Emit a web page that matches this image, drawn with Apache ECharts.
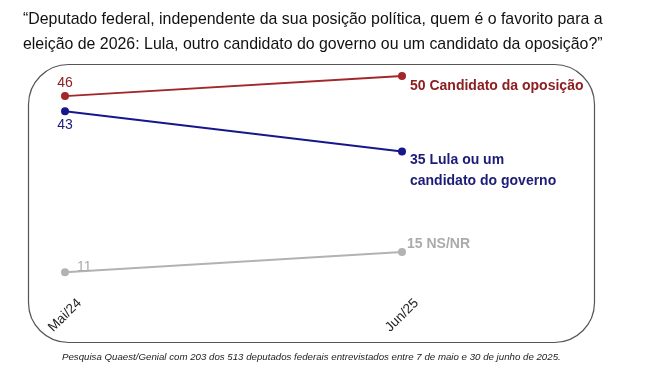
<!DOCTYPE html>
<html><head><meta charset="utf-8">
<script src="https://cdn.jsdelivr.net/npm/echarts@6/dist/echarts.min.js"></script>
<style>html,body{margin:0;padding:0;background:#fff}#c{width:650px;height:365px}</style>
</head><body><div id="c"></div>
<script>
const categories = ['Mai/24', 'Jun/25'];
const oposicao = [46, 50];
const governo = [43, 35];
const nsnr = [11, 15];
const nameOposicao = 'Candidato da oposição';
const nameGoverno = 'Lula ou um\ncandidato do governo';
const nameNsnr = 'NS/NR';
const title = '“Deputado federal, independente da sua posição política, quem é o favorito para a\neleição de 2026: Lula, outro candidato do governo ou um candidato da oposição?”';
const note = 'Pesquisa Quaest/Genial com 203 dos 513 deputados federais entrevistados entre 7 de maio e 30 de junho de 2025.';

const RED = '#a2262a', REDT = '#8c1f22';
const BLUE = '#17178c', BLUET = '#1c1c78';
const GRAY = '#b2b2b2', GRAYT = '#ababab';
const FF = 'Liberation Sans, Arial, sans-serif';

function mk(name, vals, color, tcolor, firstLabel, lastLabel) {
  return {
    type: 'line', name: name, symbol: 'circle', symbolSize: 8,
    lineStyle: { color: color, width: 2 }, itemStyle: { color: color },
    data: vals.map((v, i) => ({
      value: v,
      label: Object.assign({ show: true, color: tcolor, fontFamily: FF },
        i === 0 ? firstLabel : lastLabel)
    })),
    z: 3
  };
}

const chart = echarts.init(document.getElementById('c'), null, { renderer: 'canvas' });
chart.setOption({
  animation: false,
  backgroundColor: '#fff',
  title: [
    { text: title, left: 18, top: 2, textStyle: { fontFamily: FF, fontWeight: 'normal', fontSize: 15.9, color: '#111', lineHeight: 25 } },
    { text: note, left: 57, top: 347, textStyle: { fontFamily: FF, fontWeight: 'normal', fontStyle: 'italic', fontSize: 9.7, color: '#222' } }
  ],
  graphic: [{
    type: 'rect', left: 26, top: 62, shape: { width: 566, height: 278, r: 40 },
    style: { fill: 'none', stroke: '#555', lineWidth: 1.2 }, z: 0
  }],
  grid: { left: 65, right: 248, top: 76, bottom: 62.6 },
  xAxis: {
    type: 'category', data: categories, boundaryGap: false,
    axisLine: { show: false }, axisTick: { show: false }, splitLine: { show: false },
    axisLabel: { rotate: 45, margin: 13, align: 'center', verticalAlign: 'middle', fontSize: 13.5, color: '#222', fontFamily: FF, interval: 0 }
  },
  yAxis: { type: 'value', min: 5, max: 50, show: false, splitLine: { show: false } },
  series: [
    mk(nameOposicao, oposicao, RED, REDT,
      { position: 'top', distance: 2, fontSize: 14, formatter: '{c}' },
      { position: 'right', distance: 4, offset: [0, 10], fontSize: 14, fontWeight: 'bold', formatter: p => p.value + ' ' + nameOposicao }),
    mk(nameGoverno, governo, BLUE, BLUET,
      { position: 'bottom', distance: 3, fontSize: 14, formatter: '{c}' },
      { position: 'right', distance: 4, offset: [0, 19.5], fontSize: 14, fontWeight: 'bold', lineHeight: 21, align: 'left', formatter: p => p.value + ' ' + nameGoverno }),
    mk(nameNsnr, nsnr, GRAY, GRAYT,
      { position: 'right', distance: 8, offset: [0, -5], fontSize: 14, formatter: '{c}' },
      { position: 'right', distance: 1, offset: [0, -8], fontSize: 14, fontWeight: 'bold', formatter: p => p.value + ' ' + nameNsnr })
  ]
});
</script></body></html>
